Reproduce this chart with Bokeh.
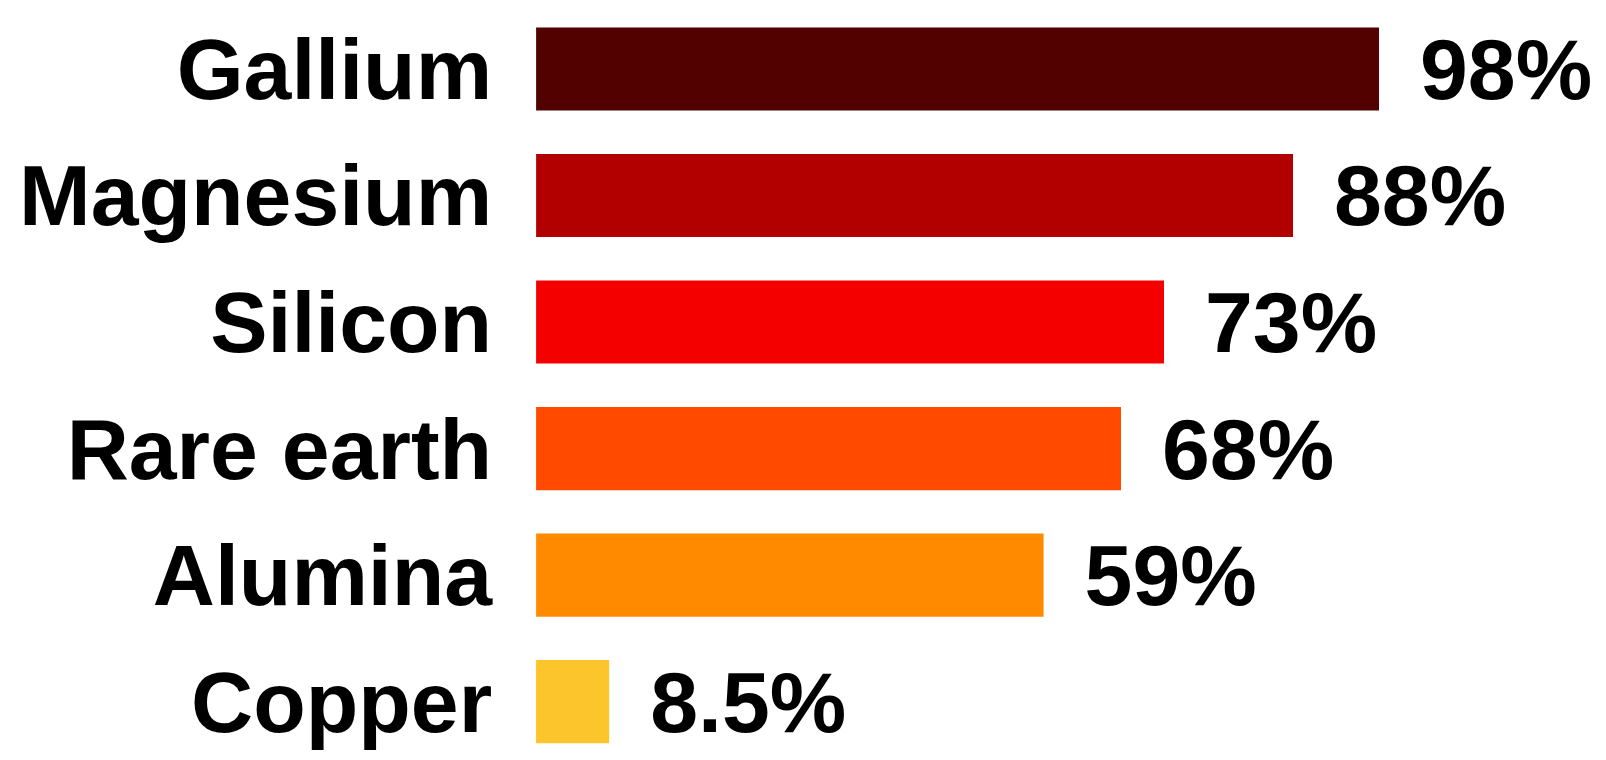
from bokeh.plotting import figure
from bokeh.models import ColumnDataSource, Range1d
from bokeh.core.properties import value
from bokeh.embed import file_html
from bokeh.resources import INLINE

categories = ["Gallium", "Magnesium", "Silicon", "Rare earth", "Alumina", "Copper"]
shares = [98, 88, 73, 68, 59, 8.5]
share_labels = ["98%", "88%", "73%", "68%", "59%", "8.5%"]
colors = ["#520000", "#B20000", "#F40000", "#FF4A00", "#FF8A00", "#FBC52B"]

n = len(categories)
ypos = [n - 1 - i for i in range(n)]

src = ColumnDataSource(dict(cat=categories, val=shares, lab=share_labels,
                            col=colors, y=ypos, zero=[0] * n))

p = figure(width=1597, height=751, output_backend="svg", toolbar_location=None,
           x_range=Range1d(-62.27, 123.4), y_range=Range1d(-0.394, 5.541),
           min_border=0, outline_line_color=None)
p.axis.visible = False
p.grid.visible = False
p.background_fill_color = "white"
p.border_fill_color = "white"

p.hbar(y="y", left=0, right="val", height=0.657, fill_color="col",
       line_color=None, source=src)

p.text(x="zero", y="y", text="cat", source=src, text_align="right",
       text_baseline="middle", x_offset=-44, text_font=value("Liberation Sans"),
       text_font_style="bold", text_font_size="86px", text_color="black")

p.text(x="val", y="y", text="lab", source=src, text_align="left",
       text_baseline="middle", x_offset=41, text_font=value("Liberation Sans"),
       text_font_style="bold", text_font_size="86px", text_color="black")

open("out.html", "w").write(file_html(p, INLINE))
